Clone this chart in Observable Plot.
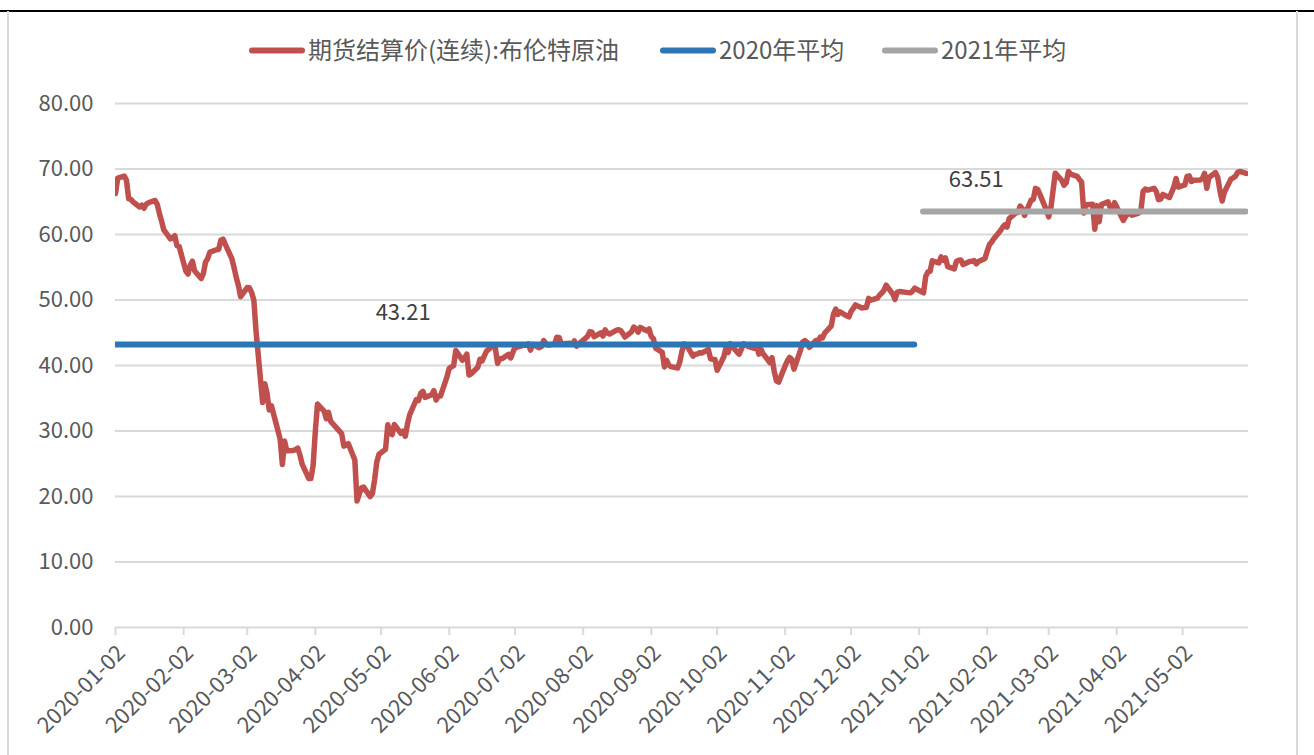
<!DOCTYPE html>
<html>
<head>
<meta charset="utf-8">
<script src="https://cdn.jsdelivr.net/npm/d3@7"></script>
<script src="https://cdn.jsdelivr.net/npm/@observablehq/plot@0.6"></script>
<style>
  html, body { margin: 0; padding: 0; background: #fff; }
  #wrap { position: relative; width: 1314px; height: 755px; overflow: hidden; font-family: "Noto Sans CJK SC", "Noto Sans", sans-serif; }
  .frame-top { position: absolute; left: 0; top: 10px; width: 1314px; height: 1.5px; background: #000; }
  .frame-side { position: absolute; top: 11px; width: 2px; height: 744px; background: #d9d9d9; }
  .legend-item { position: absolute; top: 48px; transform: translateY(-50%); display: flex; align-items: center; font-size: 24px; color: #595959; white-space: nowrap; }
  .swatch { width: 56px; height: 6px; border-radius: 3px; margin-right: 3px; position: relative; top: 2px; }
  #chart { position: absolute; left: 0; top: 0; }
</style>
</head>
<body>
<div id="wrap">
  <div class="frame-top"></div>
  <div class="frame-side" style="left:7px"></div>
  <div class="frame-side" style="left:1296px"></div>
  <div id="legend"></div>
  <div id="chart"></div>
</div>
<script>
// ---- Data ----
const seriesNames = ["期货结算价(连续):布伦特原油", "2020年平均", "2021年平均"];
const seriesColors = ["#C0504D", "#2E75B6", "#A5A5A5"];

const brent = [
["2020-01-02",66.25],["2020-01-03",68.60],["2020-01-06",68.91],["2020-01-07",68.27],["2020-01-08",65.44],["2020-01-09",65.37],["2020-01-10",64.98],["2020-01-13",64.20],["2020-01-14",64.49],["2020-01-15",64.00],["2020-01-16",64.62],["2020-01-17",64.85],["2020-01-20",65.20],["2020-01-21",64.59],["2020-01-22",63.21],["2020-01-23",62.04],["2020-01-24",60.69],["2020-01-27",59.32],["2020-01-28",59.51],["2020-01-29",59.81],["2020-01-30",58.29],["2020-01-31",58.16],
["2020-02-03",54.45],["2020-02-04",53.96],["2020-02-05",55.28],["2020-02-06",55.93],["2020-02-07",54.47],["2020-02-10",53.27],["2020-02-11",54.01],["2020-02-12",55.79],["2020-02-13",56.34],["2020-02-14",57.32],["2020-02-17",57.67],["2020-02-18",57.75],["2020-02-19",59.12],["2020-02-20",59.31],["2020-02-21",58.50],["2020-02-24",56.30],["2020-02-25",54.95],["2020-02-26",53.43],["2020-02-27",52.18],["2020-02-28",50.52],
["2020-03-02",51.90],["2020-03-03",51.86],["2020-03-04",51.13],["2020-03-05",49.99],["2020-03-06",45.27],["2020-03-09",34.36],["2020-03-10",37.22],["2020-03-11",35.79],["2020-03-12",33.22],["2020-03-13",33.85],["2020-03-16",30.05],["2020-03-17",28.73],["2020-03-18",24.88],["2020-03-19",28.47],["2020-03-20",26.98],["2020-03-23",27.03],["2020-03-24",27.15],["2020-03-25",27.39],["2020-03-26",26.34],["2020-03-27",24.93],["2020-03-30",22.76],["2020-03-31",22.74],
["2020-04-01",24.74],["2020-04-02",29.94],["2020-04-03",34.11],["2020-04-06",33.05],["2020-04-07",31.87],["2020-04-08",32.84],["2020-04-09",31.48],["2020-04-14",29.60],["2020-04-15",27.69],["2020-04-16",27.82],["2020-04-17",28.08],["2020-04-20",25.57],["2020-04-21",19.33],["2020-04-22",20.37],["2020-04-23",21.33],["2020-04-24",21.44],["2020-04-27",19.99],["2020-04-28",20.46],["2020-04-29",22.54],["2020-04-30",25.27],
["2020-05-01",26.44],["2020-05-04",27.20],["2020-05-05",30.97],["2020-05-06",29.72],["2020-05-07",29.46],["2020-05-08",30.97],["2020-05-11",29.63],["2020-05-12",29.98],["2020-05-13",29.19],["2020-05-14",31.13],["2020-05-15",32.50],["2020-05-18",34.81],["2020-05-19",34.65],["2020-05-20",35.75],["2020-05-21",36.06],["2020-05-22",35.13],["2020-05-25",35.53],["2020-05-26",36.17],["2020-05-27",34.74],["2020-05-28",35.29],["2020-05-29",35.33],
["2020-06-01",38.32],["2020-06-02",39.57],["2020-06-03",39.79],["2020-06-04",39.99],["2020-06-05",42.30],["2020-06-08",40.80],["2020-06-09",41.18],["2020-06-10",41.73],["2020-06-11",38.55],["2020-06-12",38.73],["2020-06-15",39.72],["2020-06-16",40.96],["2020-06-17",40.71],["2020-06-18",41.51],["2020-06-19",42.19],["2020-06-22",43.08],["2020-06-23",42.63],["2020-06-24",40.31],["2020-06-25",41.05],["2020-06-26",41.02],["2020-06-29",41.71],["2020-06-30",41.15],
["2020-07-01",42.03],["2020-07-02",42.80],["2020-07-03",42.80],["2020-07-06",43.10],["2020-07-07",43.08],["2020-07-08",43.29],["2020-07-09",42.35],["2020-07-10",43.24],["2020-07-13",42.72],["2020-07-14",42.90],["2020-07-15",43.79],["2020-07-16",43.37],["2020-07-17",43.14],["2020-07-20",43.28],["2020-07-21",44.32],["2020-07-22",44.29],["2020-07-23",43.31],["2020-07-24",43.34],["2020-07-27",43.41],["2020-07-28",43.22],["2020-07-29",43.75],["2020-07-30",42.94],["2020-07-31",43.30],
["2020-08-03",44.15],["2020-08-04",44.43],["2020-08-05",45.17],["2020-08-06",45.09],["2020-08-07",44.40],["2020-08-10",44.99],["2020-08-11",44.50],["2020-08-12",45.43],["2020-08-13",44.96],["2020-08-14",44.80],["2020-08-17",45.37],["2020-08-18",45.46],["2020-08-19",45.37],["2020-08-20",44.90],["2020-08-21",44.35],["2020-08-24",45.13],["2020-08-25",45.86],["2020-08-26",45.64],["2020-08-27",45.09],["2020-08-28",45.81],["2020-08-31",45.28],
["2020-09-01",45.58],["2020-09-02",44.43],["2020-09-03",44.07],["2020-09-04",42.66],["2020-09-07",42.01],["2020-09-08",39.78],["2020-09-09",40.79],["2020-09-10",40.06],["2020-09-11",39.83],["2020-09-14",39.61],["2020-09-15",40.53],["2020-09-16",42.22],["2020-09-17",43.30],["2020-09-18",43.15],["2020-09-21",41.44],["2020-09-22",41.72],["2020-09-23",41.77],["2020-09-24",41.94],["2020-09-25",41.92],["2020-09-28",42.43],["2020-09-29",41.03],["2020-09-30",40.95],
["2020-10-01",40.93],["2020-10-02",39.27],["2020-10-05",41.29],["2020-10-06",42.65],["2020-10-07",41.99],["2020-10-08",43.34],["2020-10-09",42.85],["2020-10-12",41.72],["2020-10-13",42.45],["2020-10-14",43.32],["2020-10-15",43.16],["2020-10-16",42.93],["2020-10-19",42.62],["2020-10-20",43.16],["2020-10-21",41.73],["2020-10-22",42.46],["2020-10-23",41.77],["2020-10-26",40.46],["2020-10-27",41.20],["2020-10-28",39.12],["2020-10-29",37.65],["2020-10-30",37.46],
["2020-11-02",39.97],["2020-11-03",40.71],["2020-11-04",41.23],["2020-11-05",40.93],["2020-11-06",39.45],["2020-11-09",42.40],["2020-11-10",43.61],["2020-11-11",43.80],["2020-11-12",43.53],["2020-11-13",42.78],["2020-11-16",43.82],["2020-11-17",43.75],["2020-11-18",44.34],["2020-11-19",44.20],["2020-11-20",44.96],["2020-11-23",46.06],["2020-11-24",47.86],["2020-11-25",48.61],["2020-11-26",47.80],["2020-11-27",48.18],["2020-11-30",47.59],
["2020-12-01",47.42],["2020-12-02",48.25],["2020-12-03",48.71],["2020-12-04",49.25],["2020-12-07",48.79],["2020-12-08",48.84],["2020-12-09",48.86],["2020-12-10",50.25],["2020-12-11",49.97],["2020-12-14",50.29],["2020-12-15",50.76],["2020-12-16",51.08],["2020-12-17",51.50],["2020-12-18",52.26],["2020-12-21",50.91],["2020-12-22",50.08],["2020-12-23",51.20],["2020-12-24",51.29],["2020-12-29",51.09],["2020-12-30",51.34],["2020-12-31",51.80],
["2021-01-04",51.09],["2021-01-05",53.60],["2021-01-06",54.30],["2021-01-07",54.38],["2021-01-08",55.99],["2021-01-11",55.66],["2021-01-12",56.58],["2021-01-13",56.06],["2021-01-14",56.42],["2021-01-15",55.10],["2021-01-18",54.75],["2021-01-19",55.90],["2021-01-20",56.08],["2021-01-21",56.10],["2021-01-22",55.41],["2021-01-25",55.88],["2021-01-26",55.91],["2021-01-27",56.01],["2021-01-28",55.53],["2021-01-29",55.88],
["2021-02-01",56.35],["2021-02-02",57.46],["2021-02-03",58.46],["2021-02-04",58.84],["2021-02-05",59.34],["2021-02-08",60.56],["2021-02-09",61.09],["2021-02-10",61.47],["2021-02-11",61.14],["2021-02-12",62.43],["2021-02-15",63.30],["2021-02-16",63.35],["2021-02-17",64.34],["2021-02-18",63.93],["2021-02-19",62.91],["2021-02-22",65.24],["2021-02-23",65.37],["2021-02-24",67.04],["2021-02-25",66.88],["2021-02-26",66.13],
["2021-03-01",63.69],["2021-03-02",62.70],["2021-03-03",64.07],["2021-03-04",66.74],["2021-03-05",69.36],["2021-03-08",68.24],["2021-03-09",67.52],["2021-03-10",67.90],["2021-03-11",69.63],["2021-03-12",69.22],["2021-03-15",68.88],["2021-03-16",68.39],["2021-03-17",68.00],["2021-03-18",63.28],["2021-03-19",64.53],["2021-03-22",64.62],["2021-03-23",60.79],["2021-03-24",64.41],["2021-03-25",61.95],["2021-03-26",64.57],["2021-03-29",64.98],["2021-03-30",64.14],["2021-03-31",63.54],
["2021-04-01",64.86],["2021-04-05",62.15],["2021-04-06",62.74],["2021-04-07",63.16],["2021-04-08",63.20],["2021-04-09",62.95],["2021-04-12",63.28],["2021-04-13",63.67],["2021-04-14",66.58],["2021-04-15",66.94],["2021-04-16",66.77],["2021-04-19",67.05],["2021-04-20",66.57],["2021-04-21",65.32],["2021-04-22",65.40],["2021-04-23",66.11],["2021-04-26",65.65],["2021-04-27",66.42],["2021-04-28",67.27],["2021-04-29",68.56],["2021-04-30",67.25],
["2021-05-03",67.56],["2021-05-04",68.88],["2021-05-05",68.96],["2021-05-06",68.09],["2021-05-07",68.28],["2021-05-10",68.32],["2021-05-11",68.55],["2021-05-12",69.32],["2021-05-13",67.05],["2021-05-14",68.71],["2021-05-17",69.46],["2021-05-18",68.71],["2021-05-19",66.66],["2021-05-20",65.11],["2021-05-21",66.44],["2021-05-24",68.46],["2021-05-25",68.65],["2021-05-26",68.87],["2021-05-27",69.46],["2021-05-28",69.63],["2021-05-31",69.32]
];

const avgValues = [43.21, 63.51];
const avgStarts = ["2020-01-02", "2021-01-04"];
const avgEnds = ["2020-12-31", "2021-05-31"];
const avgLabelDates = ["2020-05-12", "2021-01-28"];

const xTickLabels = ["2020-01-02","2020-02-02","2020-03-02","2020-04-02","2020-05-02","2020-06-02","2020-07-02","2020-08-02","2020-09-02","2020-10-02","2020-11-02","2020-12-02","2021-01-02","2021-02-02","2021-03-02","2021-04-02","2021-05-02"];
const yTicks = [0, 10, 20, 30, 40, 50, 60, 70, 80];
const xDomain = ["2020-01-02", "2021-06-01"];

// ---- Build ----
const parse = d3.utcParse("%Y-%m-%d");
const fmtDate = d3.utcFormat("%Y-%m-%d");
const data = brent.map(([d, v]) => ({date: parse(d), value: v}));
const avgs = avgValues.map((v, i) => ({
  value: v, start: parse(avgStarts[i]), end: parse(avgEnds[i]),
  labelDate: parse(avgLabelDates[i]), label: v.toFixed(2), color: seriesColors[i + 1]
}));
const tickDates = xTickLabels.map(parse);
const fontFamily = '"Noto Sans CJK SC", "Noto Sans", sans-serif';

const chart = Plot.plot({
  width: 1314,
  height: 755,
  marginLeft: 115,
  marginRight: 66,
  marginTop: 103,
  marginBottom: 128,
  style: {fontFamily, fontSize: "22px", color: "#595959", background: "transparent", overflow: "visible"},
  x: {type: "utc", domain: xDomain.map(parse)},
  y: {domain: [0, 80]},
  marks: [
    Plot.ruleY(yTicks.filter(d => d > 0), {stroke: "#d9d9d9", strokeWidth: 2}),
    Plot.ruleY([0], {stroke: "#d9d9d9", strokeWidth: 2}),
    Plot.axisY({ticks: yTicks, tickSize: 0, tickPadding: 22, tickFormat: d3.format(".2f"), label: null, fill: "#595959", fontSize: 22}),
    Plot.axisX({ticks: tickDates, tickSize: 8, stroke: "#d9d9d9", strokeWidth: 2, tickFormat: () => "", label: null}),
    Plot.axisX({ticks: tickDates, tickSize: 0, tickPadding: 22, tickRotate: -45, textAnchor: "end", lineAnchor: "middle", dx: 6, tickFormat: fmtDate, label: null, fill: "#595959", fontSize: 22}),
    Plot.line(data, {x: "date", y: "value", stroke: seriesColors[0], strokeWidth: 5.5, strokeLinejoin: "round", strokeLinecap: "round", clip: true}),
    Plot.ruleY(avgs, {y: "value", x1: "start", x2: "end", stroke: "color", strokeWidth: 6, strokeLinecap: "round", clip: true}),
    Plot.text(avgs, {x: "labelDate", y: "value", text: "label", dy: -32, fill: "#404040", fontSize: 22})
  ]
});
document.getElementById("chart").appendChild(chart);

// ---- Legend ----
const legendX = [249, 660, 882];
const legend = document.getElementById("legend");
seriesNames.forEach((name, i) => {
  const item = document.createElement("div");
  item.className = "legend-item";
  item.style.left = legendX[i] + "px";
  const sw = document.createElement("div");
  sw.className = "swatch";
  sw.style.background = seriesColors[i];
  const label = document.createElement("span");
  label.textContent = name;
  item.appendChild(sw);
  item.appendChild(label);
  legend.appendChild(item);
});
</script>
</body>
</html>
